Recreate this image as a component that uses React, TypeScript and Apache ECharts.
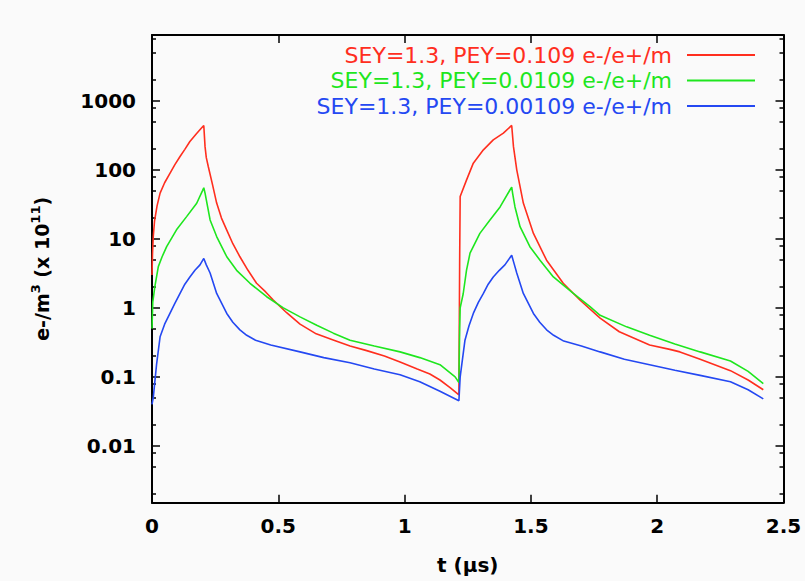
import React, { useEffect, useRef } from 'react';
import * as echarts from 'echarts';

// ---- data (t in µs, density in 1e11 e-/m^3) ----
const redT = [0, 0.002, 0.005, 0.01, 0.02, 0.032, 0.05, 0.071, 0.09, 0.111, 0.13, 0.15, 0.175, 0.195, 0.205,
  0.21, 0.215, 0.223, 0.24, 0.256, 0.275, 0.296, 0.32, 0.348, 0.38, 0.414, 0.45, 0.48, 0.533, 0.586, 0.65,
  0.72, 0.784, 0.85, 0.92, 0.982, 1.05, 1.1, 1.14, 1.18, 1.215,
  1.218, 1.22, 1.245, 1.272, 1.312, 1.351, 1.391, 1.424,
  1.431, 1.444, 1.47, 1.51, 1.562, 1.628, 1.694, 1.774, 1.85, 1.97, 2.05, 2.09, 2.17, 2.29, 2.36, 2.42];
const redV = [3, 6, 10.8, 18, 30, 46, 65, 89, 118, 156, 198, 257, 330, 400, 440,
  217, 150, 111, 60, 33, 20, 13.4, 8.5, 5.5, 3.5, 2.27, 1.7, 1.3, 0.85, 0.58, 0.42,
  0.34, 0.28, 0.24, 0.2, 0.164, 0.13, 0.11, 0.09, 0.07, 0.055,
  5, 41, 71, 125, 195, 272, 340, 440,
  217, 100, 33, 12, 4.9, 2.27, 1.3, 0.71, 0.45, 0.29, 0.25, 0.23, 0.18, 0.123, 0.09, 0.065];

const greenT = [0, 0.003, 0.011, 0.025, 0.04, 0.058, 0.097, 0.137, 0.177, 0.2, 0.205,
  0.21, 0.23, 0.256, 0.296, 0.335, 0.388, 0.454, 0.52, 0.586, 0.652, 0.718,
  0.784, 0.88, 0.982, 1.06, 1.14, 1.2, 1.215,
  1.218, 1.22, 1.232, 1.245, 1.259, 1.298, 1.338, 1.378, 1.417, 1.424,
  1.428, 1.437, 1.457, 1.496, 1.536, 1.589, 1.668, 1.734, 1.774, 1.879,
  1.97, 2.07, 2.17, 2.29, 2.36, 2.42];
const greenV = [0.5, 1.2, 2.0, 3.96, 5.5, 7.7, 13.5, 21, 32.8, 50, 55,
  46, 18.8, 10.8, 5.5, 3.5, 2.27, 1.45, 1.0, 0.74, 0.56, 0.43,
  0.34, 0.28, 0.23, 0.19, 0.15, 0.1, 0.083,
  0.5, 1.0, 1.6, 3.5, 6.2, 12, 18.8, 29, 51, 56,
  45, 29, 15, 7.7, 4.9, 2.8, 1.62, 1.04, 0.78, 0.53,
  0.4, 0.3, 0.23, 0.17, 0.12, 0.08];

const blueT = [0, 0.005, 0.018, 0.032, 0.05, 0.071, 0.09, 0.111, 0.13, 0.15, 0.17, 0.19, 0.205,
  0.215, 0.23, 0.256, 0.296, 0.32, 0.348, 0.375, 0.41, 0.47, 0.586, 0.68, 0.784, 0.88, 0.982, 1.06, 1.14, 1.215,
  1.22, 1.239, 1.255, 1.272, 1.292, 1.312, 1.331, 1.351, 1.375, 1.397, 1.424,
  1.434, 1.444, 1.47, 1.51, 1.535, 1.562, 1.59, 1.63, 1.7, 1.774, 1.87, 1.97, 2.07, 2.17, 2.29, 2.36, 2.42];
const blueV = [0.04, 0.05, 0.15, 0.38, 0.58, 0.83, 1.15, 1.62, 2.2, 2.8, 3.5, 4.2, 5.2,
  4.2, 3.2, 1.62, 0.83, 0.62, 0.48, 0.4, 0.34, 0.29, 0.23, 0.19, 0.16, 0.13, 0.107, 0.085, 0.062, 0.045,
  0.1, 0.34, 0.55, 0.83, 1.2, 1.62, 2.2, 2.8, 3.5, 4.2, 5.8,
  4.3, 3.2, 1.62, 0.83, 0.62, 0.48, 0.4, 0.33, 0.28, 0.23, 0.18, 0.15, 0.125, 0.105, 0.085, 0.065, 0.048];

const seriesNames = [
  'SEY=1.3, PEY=0.109 e-/e+/m',
  'SEY=1.3, PEY=0.0109 e-/e+/m',
  'SEY=1.3, PEY=0.00109 e-/e+/m',
];
const seriesColors = ['#ff2e1e', '#1ee61e', '#2448f2'];

const X_MIN = 0;
const X_MAX = 2.5;
const X_STEP = 0.5;
const Y_MIN = 0.0015;
const Y_MAX = 9000;
const minorMultipliers = [2, 5, 8];
const decades = [-3, -2, -1, 0, 1, 2, 3];

const FONT = 'DejaVu Sans';

export default function App() {
  const ref = useRef<HTMLDivElement>(null);

  useEffect(() => {
    if (!ref.current) return;
    const chart = echarts.init(ref.current, null, { renderer: 'svg' });

    const minorLog: number[] = [];
    decades.forEach((d) => {
      minorMultipliers.forEach((m) => {
        const v = m * Math.pow(10, d);
        if (v > Y_MIN && v < Y_MAX) minorLog.push(Math.log10(v));
      });
    });

    const toPairs = (t: number[], v: number[]) => t.map((x, i) => [x, v[i]]);
    const allT = [redT, greenT, blueT];
    const allV = [redV, greenV, blueV];

    const axisLine = { show: true, onZero: false, lineStyle: { color: '#000', width: 2 } };
    const noLine = { show: false, onZero: false };
    const majorTick = { show: true, inside: true, length: 8, lineStyle: { color: '#000', width: 1.5 } };
    const minorTickStyle = { show: true, inside: true, length: 4, lineStyle: { color: '#000', width: 1.5 }, customValues: minorLog };

    const option: any = {
      animation: false,
      backgroundColor: '#fafafa',
      grid: { left: 152, right: 21.5, top: 35, bottom: 78.3, containLabel: false },
      legend: {
        orient: 'vertical',
        right: 50,
        top: 44,
        align: 'right',
        padding: 0,
        itemGap: 3.5,
        itemWidth: 68,
        itemHeight: 2,
        icon: 'rect',
        selectedMode: false,
        textStyle: { fontFamily: FONT, fontSize: 22, padding: [0, 10, 0, 0] },
        data: seriesNames.map((n, i) => ({ name: n, textStyle: { color: seriesColors[i] } })),
      },
      xAxis: [
        {
          type: 'value', position: 'bottom', min: X_MIN, max: X_MAX, interval: X_STEP,
          axisLine, axisTick: majorTick, splitLine: { show: false },
          axisLabel: { margin: 13, fontFamily: FONT, fontSize: 20, fontWeight: 'bold', color: '#000' },
          name: 't (μs)', nameLocation: 'middle', nameGap: 52,
          nameTextStyle: { fontFamily: FONT, fontSize: 20, fontWeight: 'bold', color: '#000' },
        },
        {
          type: 'value', position: 'top', min: X_MIN, max: X_MAX, interval: X_STEP,
          axisLine, axisTick: majorTick, splitLine: { show: false }, axisLabel: { show: false },
        },
      ],
      yAxis: [
        {
          type: 'log', logBase: 10, position: 'left', min: Y_MIN, max: Y_MAX,
          axisLine, axisTick: majorTick, splitLine: { show: false }, minorTick: { show: false },
          axisLabel: {
            margin: 16, fontFamily: FONT, fontSize: 20, fontWeight: 'bold', color: '#000',
            showMinLabel: false, showMaxLabel: false,
            formatter: (v: number) => String(+(+v).toPrecision(6)),
          },
          name: '{a|e-/m}{s|3}{a| (x 10}{s|11}{a|)}', nameLocation: 'middle', nameGap: 101,
          nameTextStyle: {
            rich: {
              a: { fontFamily: FONT, fontSize: 19, fontWeight: 'bold', color: '#000', verticalAlign: 'bottom', lineHeight: 22 },
              s: { fontFamily: FONT, fontSize: 13, fontWeight: 'bold', color: '#000', verticalAlign: 'top', lineHeight: 22 },
            },
          },
        },
        {
          type: 'value', position: 'left', min: Math.log10(Y_MIN), max: Math.log10(Y_MAX),
          axisLine: noLine, axisTick: minorTickStyle, axisLabel: { show: false }, splitLine: { show: false },
        },
        {
          type: 'log', logBase: 10, position: 'right', min: Y_MIN, max: Y_MAX,
          axisLine, axisTick: majorTick, splitLine: { show: false }, axisLabel: { show: false },
        },
        {
          type: 'value', position: 'right', min: Math.log10(Y_MIN), max: Math.log10(Y_MAX),
          axisLine: noLine, axisTick: minorTickStyle, axisLabel: { show: false }, splitLine: { show: false },
        },
      ],
      series: seriesNames.map((n, i) => ({
        name: n,
        type: 'line',
        xAxisIndex: 0,
        yAxisIndex: 0,
        showSymbol: false,
        symbol: 'none',
        lineStyle: { color: seriesColors[i], width: 1.6 },
        itemStyle: { color: seriesColors[i] },
        data: toPairs(allT[i], allV[i]),
      })),
    };

    chart.setOption(option);
    return () => chart.dispose();
  }, []);

  return (
    <div
      ref={ref}
      style={{ position: 'fixed', left: 0, top: 0, width: 805, height: 581 }}
    />
  );
}
